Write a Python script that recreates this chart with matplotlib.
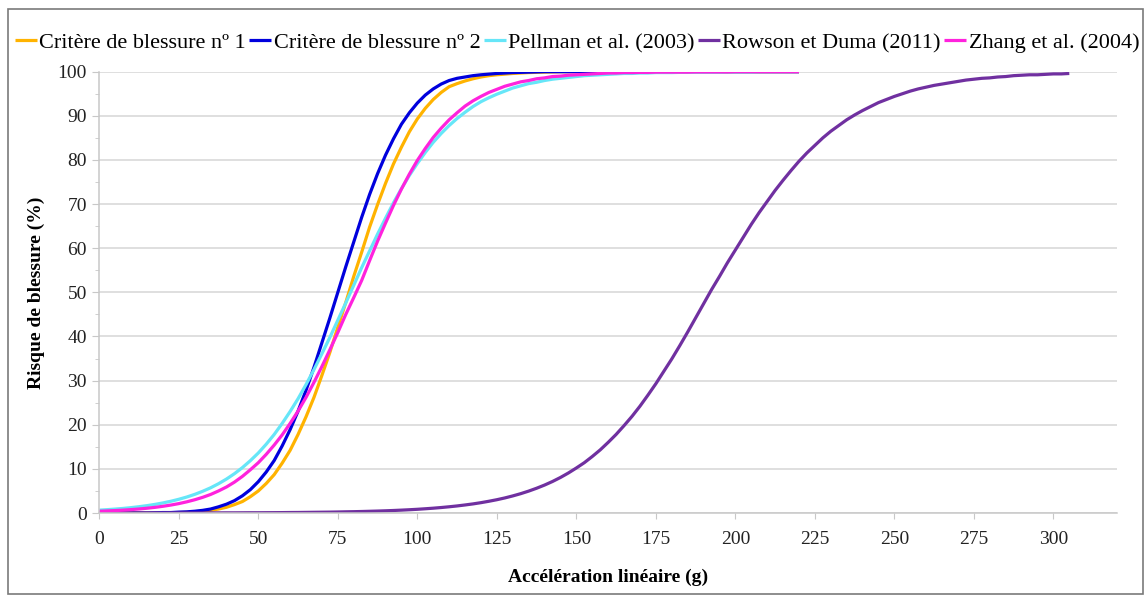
import numpy as np
import matplotlib
matplotlib.use("Agg")
import matplotlib.pyplot as plt
from matplotlib.patches import Rectangle
from matplotlib.ticker import MultipleLocator

# Risk curves: linear acceleration (g) vs injury risk (%), sampled every 2.5 g
accel = np.arange(0, 222.5, 2.5)
accel_rowson = np.arange(0, 307.5, 2.5)

critere_1 = [
    0.0, 0.0, 0.0, 0.0, 0.0, 0.0, 0.0, 0.0, 0.0, 0.06,
    0.1, 0.16, 0.3, 0.4, 0.6, 0.9, 1.3, 1.9, 2.6, 3.7,
    5.0, 6.7, 8.7, 11.3, 14.2, 17.8, 21.8, 26.2, 31.2, 36.4,
    42.1, 47.7, 53.6, 59.1, 64.8, 69.9, 74.7, 79.1, 82.9, 86.4,
    89.3, 91.7, 93.7, 95.3, 96.6, 97.3, 97.9, 98.4, 98.8, 99.1,
    99.3, 99.45, 99.6, 99.7, 99.8, 99.85, 99.9, 99.95, 100, 100,
    100, 100, 100, 100, 100, 100, 100, 100, 100, 100,
    100, 100, 100, 100, 100, 100, 100, 100, 100, 100,
    100, 100, 100, 100, 100, 100, 100, 100, 100,
]
critere_2 = [
    0.0, 0.0, 0.0, 0.0, 0.0, 0.0, 0.0, 0.05, 0.1, 0.1,
    0.2, 0.26, 0.4, 0.6, 0.9, 1.4, 2.0, 2.8, 3.9, 5.3,
    7.1, 9.3, 11.9, 15.2, 18.9, 23.1, 27.8, 33.0, 38.6, 44.2,
    50.0, 55.8, 61.4, 67.0, 72.2, 76.9, 81.1, 84.8, 88.1, 90.7,
    92.9, 94.7, 96.1, 97.2, 98.0, 98.5, 98.8, 99.1, 99.3, 99.45,
    99.6, 99.7, 99.8, 99.85, 99.9, 99.95, 100, 100, 100, 100,
    100, 100, 100, 100, 100, 100, 100, 100, 100, 100,
    100, 100, 100, 100, 100, 100, 100, 100, 100, 100,
    100, 100, 100, 100, 100, 100, 100, 100, 100,
]
pellman = [
    0.65, 0.76, 0.89, 1.04, 1.22, 1.43, 1.67, 1.95, 2.28, 2.66,
    3.11, 3.62, 4.22, 4.92, 5.71, 6.64, 7.70, 8.91, 10.29, 11.86,
    13.6, 15.6, 17.8, 20.3, 23.0, 25.9, 29.1, 32.5, 36.1, 39.8,
    43.7, 47.6, 51.6, 55.6, 59.4, 63.2, 66.8, 70.3, 73.5, 76.5,
    79.2, 81.7, 84.0, 86.0, 87.8, 89.4, 90.8, 92.1, 93.2, 94.1,
    94.9, 95.6, 96.3, 96.8, 97.3, 97.6, 98.0, 98.3, 98.5, 98.7,
    98.9, 99.1, 99.2, 99.3, 99.4, 99.5, 99.6, 99.6, 99.7, 99.7,
    99.8, 99.8, 99.8, 99.85, 99.85, 99.9, 99.9, 99.9, 99.9, 99.95,
    99.95, 99.95, 99.95, 100, 100, 100, 100, 100, 100,
]
zhang = [
    0.4, 0.47, 0.55, 0.65, 0.77, 0.91, 1.08, 1.28, 1.52, 1.8,
    2.13, 2.53, 3.0, 3.55, 4.2, 5.0, 5.9, 7.0, 8.3, 9.8,
    11.4, 13.3, 15.4, 17.7, 20.3, 23.1, 26.2, 29.6, 33.2, 37.0,
    40.9, 45.0, 48.8, 52.7, 57.2, 61.6, 65.7, 69.7, 73.4, 76.8,
    79.9, 82.6, 85.1, 87.2, 89.1, 90.7, 92.2, 93.4, 94.4, 95.3,
    96.0, 96.7, 97.2, 97.7, 98.0, 98.4, 98.6, 98.9, 99.0, 99.2,
    99.3, 99.4, 99.5, 99.6, 99.7, 99.7, 99.8, 99.8, 99.85, 99.85,
    99.9, 99.9, 99.9, 99.9, 99.9, 99.95, 99.95, 99.95, 99.95, 99.95,
    100, 100, 100, 100, 100, 100, 100, 100, 100,
]
rowson = [
    0.0, 0.0, 0.01, 0.01, 0.01, 0.01, 0.01, 0.01, 0.01, 0.02,
    0.02, 0.02, 0.02, 0.03, 0.03, 0.03, 0.04, 0.04, 0.05, 0.06,
    0.06, 0.07, 0.08, 0.09, 0.11, 0.12, 0.14, 0.16, 0.18, 0.2,
    0.23, 0.27, 0.3, 0.34, 0.39, 0.44, 0.5, 0.57, 0.65, 0.74,
    0.84, 0.96, 1.09, 1.24, 1.41, 1.60, 1.82, 2.06, 2.34, 2.66,
    3.01, 3.41, 3.87, 4.38, 4.96, 5.61, 6.33, 7.14, 8.05, 9.07,
    10.2, 11.4, 12.8, 14.3, 16.0, 17.8, 19.8, 21.9, 24.2, 26.7,
    29.3, 32.1, 34.9, 37.9, 41.0, 44.2, 47.4, 50.6, 53.6, 56.7,
    59.6, 62.5, 65.4, 68.1, 70.6, 73.1, 75.4, 77.6, 79.7, 81.6,
    83.3, 85.0, 86.5, 87.8, 89.1, 90.2, 91.2, 92.1, 93.0, 93.7,
    94.4, 95.0, 95.6, 96.1, 96.5, 96.9, 97.2, 97.5, 97.8, 98.1,
    98.3, 98.5, 98.6, 98.8, 98.9, 99.1, 99.2, 99.3, 99.3, 99.4,
    99.5, 99.5, 99.6,
]

series = [
    ("Critère de blessure n\u00ba 1", accel, critere_1, "#FFB300"),
    ("Critère de blessure n\u00ba 2", accel, critere_2, "#0000DD"),
    ("Pellman et al. (2003)", accel, pellman, "#66E6F8"),
    ("Rowson et Duma (2011)", accel_rowson, rowson, "#7030A0"),
    ("Zhang et al. (2004)", accel, zhang, "#FF22DD"),
]

plt.rcParams["font.family"] = ["Liberation Serif", "DejaVu Serif"]

W, H = 1145, 595
fig = plt.figure(figsize=(W / 100, H / 100), dpi=100)
ax = fig.add_axes([99.3 / W, (H - 513) / H, (1117 - 99.3) / W, (513 - 71.7) / H])

for label, x, y, color in series:
    ax.plot(x, y, color=color, lw=2.3, label=label, solid_capstyle="butt")

ax.set_xlim(0, 320)
ax.set_ylim(0, 100)
ax.set_xticks(np.arange(0, 325, 25))
ax.set_yticks(np.arange(0, 110, 10))
ax.yaxis.set_minor_locator(MultipleLocator(5))

ax.yaxis.grid(True, color="#d6d6d6", lw=1.1)
ax.set_axisbelow(True)
for side in ("top", "right"):
    ax.spines[side].set_visible(False)
for side in ("left", "bottom"):
    ax.spines[side].set_color("#c8c8c8")
    ax.spines[side].set_linewidth(1.1)

ax.tick_params(axis="both", which="both", direction="out", color="#c8c8c8",
               labelsize=14, labelcolor="#222222")
ax.tick_params(axis="y", which="major", length=5, pad=4)
ax.tick_params(axis="y", which="minor", length=3)
ax.tick_params(axis="x", which="major", length=4, pad=9)

ax.set_xlabel("Accélération linéaire (g)", fontsize=14, fontweight="bold", labelpad=15)
ax.set_ylabel("Risque de blessure (%)", fontsize=14, fontweight="bold", labelpad=9)

fig.legend(loc="center", bbox_to_anchor=(577 / W, 1 - 43 / H), ncol=5,
           frameon=False, fontsize=16, handlelength=1.0, handletextpad=0.1,
           columnspacing=0.15, borderaxespad=0)

# thin grey border round the whole figure
fig.patches.append(Rectangle((8 / W, 1.5 / H), (1143 - 8) / W, (590 - 5) / H,
                             transform=fig.transFigure, fill=False,
                             ec="#7a7a7a", lw=1.2))

fig.savefig("out.png", dpi=100)
